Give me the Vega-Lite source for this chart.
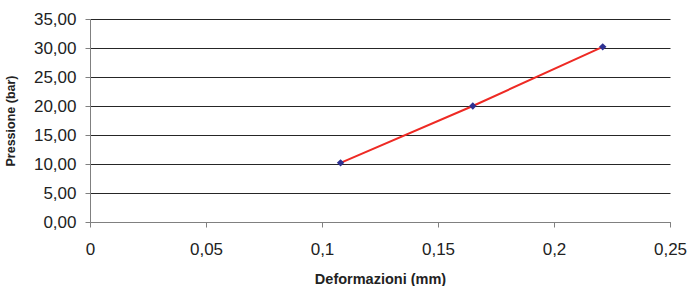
{
  "$schema": "https://vega.github.io/schema/vega-lite/v6.json",
  "width": 580,
  "height": 203,
  "autosize": {"type": "none"},
  "padding": {"left": 90, "top": 19, "right": 22, "bottom": 64},
  "background": "white",
  "config": {
    "view": {"stroke": null},
    "font": "Liberation Sans",
    "axis": {
      "labelFont": "Liberation Sans",
      "titleFont": "Liberation Sans",
      "labelColor": "#222222",
      "titleColor": "#222222",
      "domainColor": "#808080",
      "tickColor": "#808080",
      "tickSize": 5,
      "labelFontSize": 17,
      "titleFontSize": 13,
      "titleFontWeight": "bold",
      "labelOverlap": false,
      "labelFlush": false
    }
  },
  "data": {
    "values": [
      {"def": 0.108, "p": 10.2},
      {"def": 0.165, "p": 20.0},
      {"def": 0.221, "p": 30.2}
    ]
  },
  "layer": [
    {
      "mark": {"type": "line", "color": "#EE2A24", "strokeWidth": 2},
      "encoding": {
        "x": {
          "field": "def", "type": "quantitative",
          "scale": {"domain": [0, 0.25], "nice": false, "zero": true},
          "axis": {
            "title": "Deformazioni (mm)",
            "titleFontSize": 14.5,
            "values": [0, 0.05, 0.1, 0.15, 0.2, 0.25],
            "tickCount": 20,
            "labelExpr": "replace(format(datum.value, '~g'), '.', ',')",
            "grid": false,
            "labelPadding": 14,
            "titlePadding": 15
          }
        },
        "y": {
          "field": "p", "type": "quantitative",
          "scale": {"domain": [0, 35], "nice": false},
          "axis": {
            "title": "Pressione (bar)",
            "titleFontSize": 12.5,
            "values": [0, 5, 10, 15, 20, 25, 30, 35],
            "tickCount": 20,
            "labelExpr": "replace(format(datum.value, '.2f'), '.', ',')",
            "grid": true,
            "gridColor": "#262626",
            "gridWidth": 1,
            "gridOpacity": 1,
            "labelPadding": 9,
            "titlePadding": 16
          }
        }
      }
    },
    {
      "mark": {"type": "point", "shape": "diamond", "filled": true, "color": "#2E3192", "size": 55, "opacity": 1},
      "encoding": {
        "x": {"field": "def", "type": "quantitative"},
        "y": {"field": "p", "type": "quantitative"}
      }
    }
  ]
}
